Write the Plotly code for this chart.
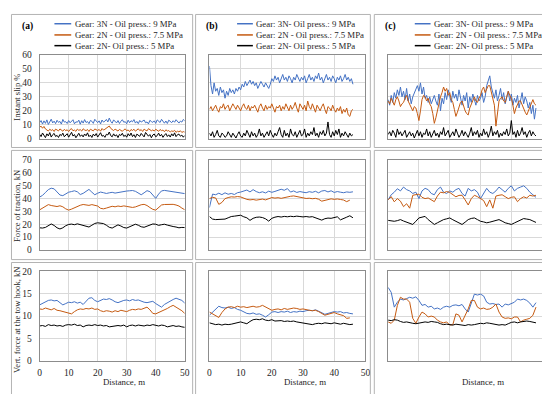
import numpy as np
import plotly.graph_objects as go

# ---------------- data ----------------
SERIES_NAMES_A = ["Gear: 3N - Oil press.: 9 MPa", "Gear: 2N - Oil press.: 7.5 MPa", "Gear: 2N- Oil press.: 5 MPa"]
SERIES_NAMES_BC = ["Gear: 3N- Oil press.: 9 MPa", "Gear: 2N - Oil press.: 7.5 MPa", "Gear: 2N- Oil press.: 5 MPa"]
PANEL_LABELS = ["(a)", "(b)", "(c)"]
ROW_TITLES = ["Instant slip %", "Force of traction, kN", "Vert. force at the tow hook, kN"]
X_TITLE = "Distance, m"

# end distance (m) of each series, per column: [blue, orange, black]
END_A = [50, 50, 50]
END_B1 = [46, 46, 46]
END_B2 = [46, 45, 46]
END_B3 = [46, 45, 46]
END_C = [48, 48, 48]

# ---- (a) instant slip
a1_blue = [11.5,13,10.5,12.8,11,13.5,10.2,12,14,11.3,12.6,10.8,13.2,11.7,12.4,10.5,13.8,11.9,12.2,10.9,
           13,11.4,12.7,13.6,10.7,12.1,11.8,13.3,10.4,12.9,11.2,13.7,11.6,12.3,10.8,13.1,12.5,11,13.9,12.2,
           11.5,12.8,10.6,13.4,11.9,12.6,13.8,12,14.8,12.4,11.1,13.5,12.7,11.3,13,10.9,12.5,13.6,11.8,12.2,
           10.7,13.3,11.5,12.9,12.1,13.7,11.2,12.4,10.8,13.1,11.9,12.6,13.4,11.4,12,10.6,13.2,12.3,11.7,12.8,
           11,13.5,12.2,11.6,13.9,12.5,11.1,12.7,10.9,13.3,12,11.5,12.9,11.8,13.6,12.3,11.2,12.6,11.9,13.8,12.8]
a1_orange = [8.2,9,7.5,8.8,7,6.2,5.5,6.8,5.9,6.5,5.2,6.9,6.1,5.6,7,6.3,5.4,6.7,5.8,6.4,
             5.1,6.6,7.2,5.7,6.2,5.3,6.9,6,6.5,5.5,7.1,6.3,5.8,6.6,5.2,6.8,6.1,5.6,7,6.4,
             5.9,6.7,5.4,7.3,6.2,6.8,7.5,8.2,9.1,7.4,6.5,5.8,6.9,6.2,5.5,6.7,6,5.3,6.4,7,
             5.7,6.3,5.1,6.6,5.9,6.8,5.4,6.2,7.1,5.8,6.5,5.2,6.9,6.1,5.6,7.2,6.4,5.7,6.3,5.5,
             6.8,6,5.3,6.6,5.8,6.2,5,6.4,5.5,5.9,4.8,5.6,5.2,6,4.6,5.4,4.9,5.7,4.5,5.1,4.7]
a1_black = [3.2,1.5,4.1,2.6,0.8,3.5,2,4.4,1.2,2.9,3.8,1.6,2.4,0.9,3.1,2.2,4,1.4,2.7,3.6,
            1.1,2.5,4.6,1.9,3,0.7,2.3,3.9,1.7,2.8,1.3,3.4,2.1,4.2,1.5,2.6,0.9,3.3,2,3.7,
            1.2,2.9,4.3,1.8,2.4,1,3.2,2.7,4.8,2.2,1.4,3.5,1.9,2.8,0.8,3.1,2.3,3.9,1.6,2.5,
            1.1,3.6,2,4.1,1.5,2.9,0.9,3.3,2.4,1.7,3.8,2.1,1.3,4.5,2.6,1.8,3,0.7,2.7,3.4,
            1.4,2.2,4,1.9,3.1,1,2.5,3.7,1.6,2.8,1.2,3.5,2,4.2,1.5,2.9,3.3,1.8,2.6,1.1,2.3]

# ---- (a) traction
a2_blue = [41.2,42.5,44.8,47,48.1,47.6,45.2,42.8,42.3,43.6,45,45.5,46.1,45.3,43.2,44.1,45.8,47.2,45,43,
           44.2,45.1,44.6,44,44.5,44.9,44.3,44.8,45.2,45.6,45.9,46.1,46.3,45.7,44.1,43,44.5,46.2,45.4,42.6,
           40.2,43.5,46,46.4,46.1,45.8,45.6,45.2,44.8,44.2,43.9]
a2_orange = [31.2,32.5,34.2,35.3,34.6,34,33.8,34.4,33.6,32,31,31.8,33,34.1,34.8,35.4,35.1,34.7,35.3,35,
             34.2,32.4,32,32.6,33.5,34,33.6,34.2,33.8,34.3,33.9,33.4,33.1,33.5,34.4,35.2,35.5,34.6,33,31.6,
             31,33.2,35,35.4,35.6,35.3,35.5,35,34.2,32.6,31.3]
a2_black = [17.2,17,17.5,19,20.2,19,17.2,16.3,17.2,18.8,19.8,20.1,19.6,20.3,19.8,19.2,18.4,17.8,19.2,20.6,
            21.1,21,20.5,19.2,17.6,17,18.2,19.5,18.6,17.4,17,18,19.4,20,19.2,18,17.6,18.5,19.4,20.2,
            20,19.1,19.6,20,19.3,18.5,18.2,17.8,17.2,17.5,17.4]

# ---- (a) vertical force
a3_blue = [12.5,12.8,13.2,13.5,13.6,13.4,13.5,13,12.5,12.8,13.1,13,13.2,12.9,13.1,12.6,13.3,14,14.1,13.5,
           13.2,13.5,13.8,13.7,13.9,13.6,13.2,13,13.3,13.5,13.6,13.4,13.7,13.5,13.6,13.3,13.1,13,13.2,13.3,
           12.8,12.3,12,12.6,13,13.4,13.7,14,13.8,13.5,12.9]
a3_orange = [11.6,11.5,11.8,11.6,11.4,11.7,11.3,11.2,11,10.8,10.6,10.5,11,11.4,11.6,11.5,11.7,11.6,11.8,11.5,
             11.6,11.2,11,11.2,11.1,10.9,11.2,11,11.3,11.1,11,11.3,11.5,11.4,11.6,11.5,11.8,12,11.4,10.6,
             10.5,10.8,11,11.3,11.7,12.1,12.4,12,11.6,11.2,10.6]
a3_black = [7.8,7.9,7.7,8.1,7.9,8,7.8,7.9,7.7,8,8.1,8,8.2,7.9,8,7.6,7.9,8,7.9,8.1,
            7.9,8,7.8,7.9,7.6,7.7,7.8,7.9,7.8,8,7.6,7.9,8,7.8,8,7.9,7.8,8,7.9,8.1,
            7.9,7.8,8,7.9,7.6,7.8,7.9,7.7,7.8,7.6,7.5]

# ---- (b) instant slip
b1_blue = [52,38,32,40,34,36,31,37,33,35,
           29,34,31,36,33,35,32,36,34,37,
           35,39,37,41,38,40,42,39,41,38,
           40,36,38,41,39,37,40,38,36,39,
           43,41,45,42,44,40,43,46,42,44,
           41,45,43,40,44,42,46,43,41,44,
           42,45,40,43,46,42,44,41,45,43,
           47,42,44,40,43,46,42,44,41,45,
           43,40,44,42,45,41,43,46,42,44,
           41,43,39]
b1_orange = [21,23,20,22,24,21,19,23,22,25,
             21,23,24,20,22,25,23,21,24,22,
             20,23,25,22,21,24,20,23,22,24,
             21,19,23,25,22,20,24,21,23,22,
             25,21,19,23,22,24,20,23,21,25,
             22,20,24,21,23,26,22,19,25,23,
             21,24,20,27,23,21,25,22,19,24,
             22,20,23,25,21,18,23,22,20,24,
             21,19,22,20,23,18,21,19,22,17,
             16,20,21]
b1_black = [4,2,5,1,3,6,2,1,4,3,
            1,2,5,3,1,4,2,0.5,3,5,
            2,1,4,2,6,3,1,5,2,4,
            1,3,7,2,4,1,3,5,2,6,
            3,1,4,2,5,8,3,1,6,2,
            4,1,7,3,2,5,1,4,6,2,
            3,7,1,4,2,5,3,8,2,4,
            1,5,3,6,2,4,12,3,1,5,
            2,6,3,7,1,4,2,5,3,1,
            4,2,3]

# ---- (b) traction
b2_blue = [33,43.5,43,44.2,43.1,44.5,43.4,44,43.2,44.6,45.1,45.8,46.7,45.2,47,45.5,44.6,45.3,44.4,45.8,
           44.9,45.6,46.2,47.3,46.5,47.8,45.1,46,44.8,45.5,45,44.6,45.4,44.9,45.7,44.5,45.9,46.3,45.2,46.1,
           44.8,45.5,45,44.6,45.2,44.9,45.3]
b2_orange = [40,41,40.5,35.5,37,40,40.8,41.4,41.2,41.6,41.3,40.2,39.4,39,39.3,38.8,39.2,39.6,39,40.2,
             40.8,40.4,40.7,40.2,40.9,41.3,41.8,42.1,41.5,41,40.4,40.1,40.3,39.9,40.2,39.5,38,38.6,39.5,39.8,
             39.4,39.7,39.3,38.9,37.6,38.8]
b2_black = [26,24,23.6,23.8,23.5,24,25,26,26.3,26.6,27,25.8,25,23,24.6,25.4,25.6,25.2,24.2,22.4,
            24.6,25.5,26,25.6,26.1,25.8,26.2,25.9,26.3,26,25.7,26,25.6,25.9,25,24.5,23.2,24.3,24.8,24.6,
            25,25.8,23.4,24.2,25.5,26.6,25]

# ---- (b) vertical force
b3_blue = [10.2,10.8,11.6,12.2,11.9,11.8,12,11.7,11.9,11.5,11.3,11,10.6,10.5,10.7,10.4,10.5,10.2,9.8,10.3,
           10.9,11,10.8,11,10.9,11.1,10.8,11,10.9,11.1,11,11.2,11.3,11.2,11.4,11.1,10.8,10.4,10.6,10.8,
           11,10.9,11,10.7,10.8,10.6,10.5]
b3_orange = [10.9,10.5,10.2,9.7,10.8,11.6,12,12.1,11.9,12.2,12,12.1,11.9,12,12.2,12,12.1,12.4,12,11.6,
             11.3,11.5,11.6,11.4,11.7,11.5,11.6,11.8,11.7,11.5,11.6,11.4,11.3,11.2,11.3,11,10.6,10.2,10.4,10.6,
             10.8,10.5,10.3,10.1,9.5,9.6]
b3_black = [8.5,8.3,8.1,8.2,8,8.2,8.1,8.2,8.4,8.6,8.7,8.5,8.3,8.8,9.2,9.3,9.2,9.4,9.1,9,
            9.2,8.9,8.9,9,8.8,8.9,8.8,8.9,8.7,8.6,8.5,8.4,8.3,8.1,8.3,8.4,8.3,8.5,8.4,8.3,
            8.5,8.4,8.2,8.4,8.3,8.1,8.2]

# ---- (c) instant slip
c1_blue = [28,24,31,26,33,29,35,31,37,30,
           34,28,36,27,32,25,30,33,35,38,
           34,40,32,37,29,31,26,30,25,28,
           31,27,24,32,20,29,25,33,28,35,
           30,26,34,29,32,27,35,30,24,31,
           27,33,22,30,26,32,28,24,31,27,
           29,33,26,30,38,41,45,37,33,29,
           35,27,31,36,28,33,25,30,34,27,
           32,24,29,26,31,22,28,33,25,30,
           27,22,26,18,24,14,22]
c1_orange = [27,25,29,26,24,28,30,27,23,25,
             26,29,31,27,25,22,20,23,22,18,
             13,20,28,31,30,27,29,25,23,18,
             11,15,20,26,30,33,37,34,36,31,
             33,28,26,21,16,19,22,26,27,23,
             20,18,17,22,25,28,30,27,26,29,
             31,35,37,33,35,38,38,33,30,24,
             9,18,27,29,30,27,26,30,34,31,
             29,24,18,22,24,27,27,24,22,19,
             17,20,23,26,28,25,24]
c1_black = [3,5,2,6,4,1,7,3,5,2,
            4,6,1,3,5,2,4,0.5,3,6,
            2,5,1,4,3,7,2,5,1,3,
            6,2,4,1,5,3,8,2,4,6,
            1,3,5,2,7,4,1,3,6,2,
            5,3,1,4,8,2,5,3,6,1,
            4,2,7,3,5,1,4,9,2,5,
            3,6,1,4,2,5,3,7,2,4,
            13,3,5,1,6,2,4,8,3,5,
            1,4,6,2,5,3,2]

# ---- (c) traction
c2_blue = [39,43,45,47.7,46,49,47,46,44,45,40,46,48,47,44,43,47,49,45,44,
           46,45,47,48,44,42,48,46,47,45,40,44,48,45,44,46,49,47,45,48,
           50,46,48,49,50,48,45,43,41]
c2_orange = [39,41.5,37.5,40,38,33.7,36,32.5,42.6,43,43.5,41,40,40.5,39,37.6,42,45,44.5,45.5,
             44.8,43,41.4,42.5,42.6,39,35,40,42.6,41.5,40,38.5,33.7,39,32.5,42,42.6,43,41.5,40,
             41,41.4,37.6,40,41.4,40.5,42.6,42,42.6]
c2_black = [23,22.6,22.3,22.8,23.6,22.5,21.8,21.1,19.8,22.3,24.9,25.5,26.1,23.6,21.5,19.8,21.1,22.4,23.6,24.2,
            24.9,23.5,22.3,21,19.8,21.6,23.6,24.5,24.9,23.6,22.3,21.8,21.1,21.6,22.3,23,23.6,22.4,21.1,20.5,
            19.8,21,22.3,23.5,24.4,24,23.6,22.5,21.4]

# ---- (c) vertical force
c3_blue = [16.4,15.3,12,13.1,13.8,13.6,13.9,14.2,14,14.3,13.5,12.4,12.6,12,12.2,11.6,11.8,11.5,12,12.2,
           12,12.4,12.5,12.3,12.6,11.6,10.9,13.1,14.9,14.7,14.9,14.5,13.1,12.7,12.8,12.6,12.7,12,12.7,12.5,
           12.8,13.1,13.8,13.6,13.8,13.5,12.9,12,13]
c3_orange = [8.7,8.4,9.1,12.4,14.2,13.8,13.8,13.1,9.5,8.4,9.8,10.9,10.5,9.8,10,9.8,9.1,8.7,8.5,8.7,
             8,8.1,10.5,10.2,8.7,10,11.6,13.5,13.5,12,11.6,11.8,11.5,11.6,12,12.7,10.9,9.8,9.5,9.6,
             9.4,9.8,9.8,8.7,9.1,9.3,9.5,10.2,12]
c3_black = [9.1,9,9.2,9.1,8.8,8.6,8.7,8.5,8.4,8.3,8.4,8.6,8.7,8.6,8.8,8.7,8.6,8.3,8.1,8.2,
            8.1,8,8.2,8.1,8,7.9,8.1,8,8.1,8.3,8.4,8.3,8.5,8.4,8.3,8.1,8,8.1,8,8.3,
            8.6,8.7,8.5,8.7,8.8,8.9,8.8,8.7,8.5]

PANELS = [
    [(a1_blue, a1_orange, a1_black, END_A), (b1_blue, b1_orange, b1_black, END_B1), (c1_blue, c1_orange, c1_black, END_C)],
    [(a2_blue, a2_orange, a2_black, END_A), (b2_blue, b2_orange, b2_black, END_B2), (c2_blue, c2_orange, c2_black, END_C)],
    [(a3_blue, a3_orange, a3_black, END_A), (b3_blue, b3_orange, b3_black, END_B3), (c3_blue, c3_orange, c3_black, END_C)],
]
Y_RANGES = [(0, 60, 10), (0, 70, 10), (0, 20, 5)]
X_RANGE = (0, 50, 10)

# ---------------- styling / layout ----------------
W, H = 550, 394
COLORS = ["#4472C4", "#C55A11", "#000000"]
FONT = "Liberation Serif, Times New Roman, DejaVu Serif, serif"
COL_X = [(30, 177), (202, 360), (383, 539)]
ROW_Y = [(43, 129), (151, 243), (265, 357)]
PANEL_BOX_X = [(1.5, 185), (188, 365), (369, 548)]
PANEL_BOX_Y = [(1.5, 138), (141, 253), (256, 392)]


def fx(p):
    return p / W


def fy(p):
    return 1 - p / H


fig = go.Figure()
layout = dict(width=W, height=H, autosize=False, margin=dict(l=0, r=0, t=0, b=0),
              paper_bgcolor="white", plot_bgcolor="white", showlegend=False,
              font=dict(family=FONT))
shapes, annotations = [], []

for r in range(3):
    for c in range(3):
        k = r * 3 + c + 1
        xa = "xaxis" if k == 1 else f"xaxis{k}"
        ya = "yaxis" if k == 1 else f"yaxis{k}"
        xref = "x" if k == 1 else f"x{k}"
        yref = "y" if k == 1 else f"y{k}"
        blue, orange, black, ends = PANELS[r][c]
        for ser, col, end in zip((blue, orange, black), COLORS, ends):
            xs = np.linspace(0, end, len(ser))
            fig.add_trace(go.Scatter(x=xs, y=ser, mode="lines", xaxis=xref, yaxis=yref,
                                     line=dict(color=col, width=1), hoverinfo="skip"))
        y0, y1, ydt = Y_RANGES[r]
        common = dict(showgrid=True, gridcolor="#d9d9d9", gridwidth=1, zeroline=False,
                      showline=True, linecolor="#8c8c8c", linewidth=1, mirror=True,
                      ticks="", tickfont=dict(family=FONT, size=9.5, color="#262626"))
        layout[xa] = dict(common, domain=[fx(COL_X[c][0]), fx(COL_X[c][1])], range=[X_RANGE[0], X_RANGE[1]],
                          dtick=X_RANGE[2], anchor=yref, showticklabels=(r == 2 and c < 2),
                          ticklabelstandoff=3)
        layout[ya] = dict(common, domain=[fy(ROW_Y[r][1]), fy(ROW_Y[r][0])], range=[y0, y1],
                          dtick=ydt, anchor=xref, showticklabels=(c == 0), ticklabelstandoff=5)

# panel boxes
for (bx0, bx1) in PANEL_BOX_X:
    for (by0, by1) in PANEL_BOX_Y:
        shapes.append(dict(type="rect", xref="paper", yref="paper", x0=fx(bx0), x1=fx(bx1),
                           y0=fy(by1), y1=fy(by0), line=dict(color="#b3b3b3", width=1)))

# legends + panel labels
LEG_LINE_X = [(45, 62), (230, 246), (410, 426)]
LEG_Y = [11, 22.5, 33.5]
LABEL_X = [10, 197, 378]
for c in range(3):
    names = SERIES_NAMES_A if c == 0 else SERIES_NAMES_BC
    for name, col, ly in zip(names, COLORS, LEG_Y):
        shapes.append(dict(type="line", xref="paper", yref="paper", x0=fx(LEG_LINE_X[c][0]), x1=fx(LEG_LINE_X[c][1]),
                           y0=fy(ly), y1=fy(ly), line=dict(color=col, width=1.5)))
        annotations.append(dict(text=name, xref="paper", yref="paper", x=fx(LEG_LINE_X[c][1] + 1.5), y=fy(ly),
                                xanchor="left", yanchor="middle", showarrow=False,
                                font=dict(family=FONT, size=8.8, color="#262626")))
    annotations.append(dict(text="<b>" + PANEL_LABELS[c] + "</b>", xref="paper", yref="paper", x=fx(LABEL_X[c]),
                            y=fy(13.5), xanchor="left", yanchor="middle", showarrow=False,
                            font=dict(family=FONT, size=9.5, color="#000000")))

# y titles
ROW_TITLE_Y = [86, 197, 314]
for r in range(3):
    annotations.append(dict(text=ROW_TITLES[r], xref="paper", yref="paper", x=fx(7), y=fy(ROW_TITLE_Y[r]),
                            xanchor="center", yanchor="middle", textangle=-90, showarrow=False,
                            font=dict(family=FONT, size=8.6, color="#262626")))
# x titles
for cx in [115, 299, 479]:
    annotations.append(dict(text=X_TITLE, xref="paper", yref="paper", x=fx(cx), y=fy(379),
                            xanchor="center", yanchor="middle", showarrow=False,
                            font=dict(family=FONT, size=8.8, color="#262626")))

layout["shapes"] = shapes
layout["annotations"] = annotations
fig.update_layout(**layout)
fig.write_html("out.html")
